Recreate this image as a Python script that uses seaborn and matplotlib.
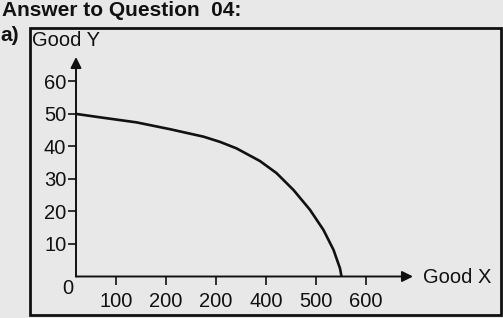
import matplotlib
matplotlib.use("Agg")
import matplotlib.pyplot as plt
from matplotlib.patches import Rectangle
import seaborn as sns
import pandas as pd

# Production possibilities curve
good_x = [20, 75, 141, 208, 275, 308, 341, 388, 421, 455, 488, 515, 535, 548, 551]
good_y = [50, 48.8, 47.4, 45.3, 43.0, 41.4, 39.4, 35.5, 31.8, 26.6, 20.5, 14.3, 8.2, 2.5, 0]
x_ticks = [100, 200, 300, 400, 500, 600]
x_tick_labels = ["100", "200", "200", "400", "500", "600"]
y_ticks = [10, 20, 30, 40, 50, 60]
y_tick_labels = ["10", "20", "30", "40", "50", "60"]

df = pd.DataFrame({"Good X": good_x, "Good Y": good_y})

sns.set_theme(style="white")
plt.rcParams["font.family"] = ["Liberation Sans", "DejaVu Sans"]

W, H = 503, 318
bg = "#e8e8e8"
ink = "#111111"
fig = plt.figure(figsize=(W / 100, H / 100), dpi=100, facecolor=bg)
ax = fig.add_axes([76 / W, 1 - 276.5 / H, (413 - 76) / W, (276.5 - 57) / H])
ax.set_facecolor(bg)

sns.lineplot(data=df, x="Good X", y="Good Y", ax=ax, color=ink, lw=1.9,
             sort=False, estimator=None)
for ln in ax.lines:
    ln.set_solid_joinstyle("round")
    ln.set_solid_capstyle("round")

ax.set_xlim(20, 694)
ax.set_ylim(0, 67.5)
for s in ax.spines.values():
    s.set_visible(False)

ax.set_xticks(x_ticks)
ax.set_xticklabels(x_tick_labels)
ax.set_yticks(y_ticks)
ax.set_yticklabels(y_tick_labels)
ax.tick_params(axis="both", direction="out", length=6, width=1.2, color=ink,
               labelsize=14.5, labelcolor=ink)
ax.tick_params(axis="x", pad=5, bottom=True)
ax.tick_params(axis="y", pad=1, left=True)
ax.set_xlabel("")
ax.set_ylabel("")

# axis arrows
ax.annotate("", xy=(1, 0), xytext=(0, 0), xycoords="axes fraction",
            arrowprops=dict(arrowstyle="-|>", color=ink, lw=1.4,
                            mutation_scale=16, shrinkA=0, shrinkB=0))
ax.annotate("", xy=(0, 1), xytext=(0, 0), xycoords="axes fraction",
            arrowprops=dict(arrowstyle="-|>", color=ink, lw=1.4,
                            mutation_scale=16, shrinkA=0, shrinkB=0))

ax.annotate("0", xy=(0, 0), xycoords="axes fraction", xytext=(-5.8, -8.6),
            textcoords="offset points", ha="center", va="center",
            fontsize=14.5, color=ink)

fig.text(66.5 / W, 1 - 40 / H, "Good Y", ha="center", va="center",
         fontsize=14.5, color=ink)
fig.text(457 / W, 1 - 277.5 / H, "Good X", ha="center", va="center",
         fontsize=14.5, color=ink)

fig.text(1.5 / W, 1 - 10.5 / H, "Answer to Question  04:", ha="left", va="center",
         fontsize=15, fontweight="bold", color=ink)
fig.text(0.5 / W, 1 - 35.5 / H, "a)", ha="left", va="center",
         fontsize=15, fontweight="bold", color=ink)

fig.patches.append(Rectangle((29.5 / W, 1 - 315 / H), (500.7 - 29.5) / W,
                             (315 - 28.3) / H, transform=fig.transFigure,
                             fill=False, lw=2, edgecolor=ink))

fig.savefig("out.png", dpi=100, facecolor=bg)
